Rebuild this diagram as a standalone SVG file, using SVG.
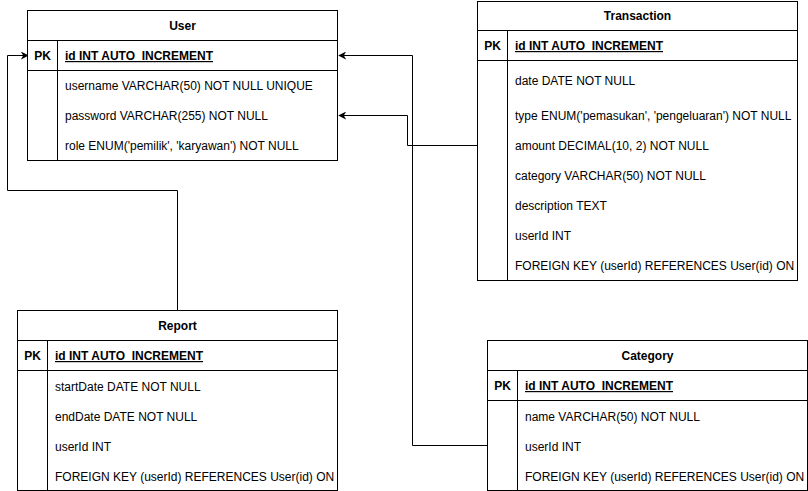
<svg xmlns="http://www.w3.org/2000/svg" width="808" height="491" viewBox="0 0 808 491">
<defs>
<marker id="arr" viewBox="0 0 10 10" refX="9" refY="5" markerWidth="8" markerHeight="8" markerUnits="userSpaceOnUse" orient="auto">
<path d="M0,0 L10,5 L0,10 L3,5 Z" fill="#000"/>
</marker>
</defs>
<style>
.box{fill:#fff;stroke:#000;stroke-width:1}
.ln{stroke:#000;stroke-width:1;fill:none}
text{font-family:"Liberation Sans",Arial,Helvetica,sans-serif;font-size:12px;fill:#000}
.t{font-weight:bold;text-anchor:middle}
.pk{font-weight:bold;text-anchor:middle}
.id{font-weight:bold;text-decoration:underline}
.conn{stroke:#000;stroke-width:1;fill:none;marker-end:url(#arr)}
</style>
<rect width="808" height="491" fill="#fff"/>

<g id="connectors">
<polyline class="conn" points="177.5,310 177.5,190.5 7.5,190.5 7.5,55.5 28,55.5"/>
<polyline class="conn" points="477,145.5 407.5,145.5 407.5,115.5 339,115.5"/>
<polyline class="conn" points="487,445.5 412.5,445.5 412.5,55.5 339,55.5"/>
</g>

<g id="User">
<rect class="box" x="27.5" y="10.5" width="310" height="150"/>
<line class="ln" x1="27.5" y1="40.5" x2="337.5" y2="40.5"/>
<line class="ln" x1="27.5" y1="70.5" x2="337.5" y2="70.5"/>
<line class="ln" x1="57.5" y1="40.5" x2="57.5" y2="160.5"/>
<text class="t" x="182.5" y="30">User</text>
<text class="pk" x="42.5" y="60">PK</text>
<text class="id" x="65" y="60">id INT AUTO_INCREMENT</text>
<text x="65" y="90">username VARCHAR(50) NOT NULL UNIQUE</text>
<text x="65" y="120">password VARCHAR(255) NOT NULL</text>
<text x="65" y="150">role ENUM('pemilik', 'karyawan') NOT NULL</text>
</g>

<g id="Transaction">
<rect class="box" x="477.5" y="1.5" width="320" height="279"/>
<line class="ln" x1="477.5" y1="30.5" x2="797.5" y2="30.5"/>
<line class="ln" x1="477.5" y1="60.5" x2="797.5" y2="60.5"/>
<line class="ln" x1="507.5" y1="30.5" x2="507.5" y2="280.5"/>
<text class="t" x="637.5" y="20">Transaction</text>
<text class="pk" x="492.5" y="50">PK</text>
<text class="id" x="515" y="50">id INT AUTO_INCREMENT</text>
<text x="515" y="85">date DATE NOT NULL</text>
<text x="515" y="120">type ENUM('pemasukan', 'pengeluaran') NOT NULL</text>
<text x="515" y="150">amount DECIMAL(10, 2) NOT NULL</text>
<text x="515" y="180">category VARCHAR(50) NOT NULL</text>
<text x="515" y="210">description TEXT</text>
<text x="515" y="240">userId INT</text>
<text x="515" y="270">FOREIGN KEY (userId) REFERENCES User(id) ON</text>
</g>

<g id="Report">
<rect class="box" x="17.5" y="310.5" width="320" height="180"/>
<line class="ln" x1="17.5" y1="340.5" x2="337.5" y2="340.5"/>
<line class="ln" x1="17.5" y1="370.5" x2="337.5" y2="370.5"/>
<line class="ln" x1="47.5" y1="340.5" x2="47.5" y2="490.5"/>
<text class="t" x="177.5" y="330">Report</text>
<text class="pk" x="32.5" y="360">PK</text>
<text class="id" x="55" y="360">id INT AUTO_INCREMENT</text>
<text x="55" y="391">startDate DATE NOT NULL</text>
<text x="55" y="421">endDate DATE NOT NULL</text>
<text x="55" y="451">userId INT</text>
<text x="55" y="481">FOREIGN KEY (userId) REFERENCES User(id) ON</text>
</g>

<g id="Category">
<rect class="box" x="487.5" y="340.5" width="320" height="150"/>
<line class="ln" x1="487.5" y1="370.5" x2="807.5" y2="370.5"/>
<line class="ln" x1="487.5" y1="400.5" x2="807.5" y2="400.5"/>
<line class="ln" x1="517.5" y1="370.5" x2="517.5" y2="490.5"/>
<text class="t" x="647.5" y="360">Category</text>
<text class="pk" x="502.5" y="390">PK</text>
<text class="id" x="525" y="390">id INT AUTO_INCREMENT</text>
<text x="525" y="421">name VARCHAR(50) NOT NULL</text>
<text x="525" y="451">userId INT</text>
<text x="525" y="481">FOREIGN KEY (userId) REFERENCES User(id) ON</text>
</g>
</svg>
